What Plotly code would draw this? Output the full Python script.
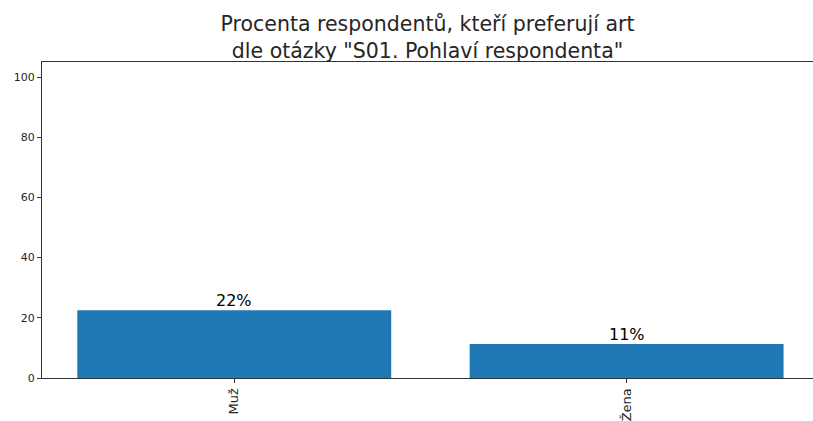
import plotly.graph_objects as go

categories = ["Muž", "Žena"]
values = [22.5, 11.3]
labels = ["22%", "11%"]
y_ticks = [0, 20, 40, 60, 80, 100]

fig = go.Figure()
fig.add_trace(go.Bar(x=list(range(len(categories))), y=values, width=0.8,
                     marker=dict(color="#1f77b4", line=dict(width=0))))
for i, (v, t) in enumerate(zip(values, labels)):
    fig.add_annotation(x=i, y=v, text=t, showarrow=False, yanchor="bottom",
                       yshift=-2, font=dict(family="DejaVu Sans", size=16, color="black"))

fig.update_layout(
    width=813, height=421,
    margin=dict(l=42, r=0, t=62, b=43),
    paper_bgcolor="white", plot_bgcolor="white",
    showlegend=False,
    font=dict(family="DejaVu Sans", color="#262626"),
    title=dict(text="Procenta respondentů, kteří preferují art<br>dle otázky \"S01. Pohlaví respondenta\"",
               x=0.5, xanchor="center", xref="paper", yref="container", y=1 - 31 / 421, yanchor="middle",
               font=dict(family="DejaVu Sans", size=20.5, color="#262626")),
    xaxis=dict(range=[-0.49, 1.475], tickvals=list(range(len(categories))), ticktext=categories,
               tickangle=-90, tickfont=dict(size=13), ticks="outside", ticklen=4, tickcolor="#333",
               showline=True, linecolor="#333", linewidth=1, mirror=True, showgrid=False, zeroline=False),
    yaxis=dict(range=[0, 105], tickvals=y_ticks, tickfont=dict(size=11), ticks="outside", ticklen=4,
               tickcolor="#333", showline=True, linecolor="#333", linewidth=1, mirror=True,
               showgrid=False, zeroline=False),
)
fig.write_html("out.html", config={"displayModeBar": False},
               post_script="document.body.style.margin='0';document.body.style.overflow='hidden';")
